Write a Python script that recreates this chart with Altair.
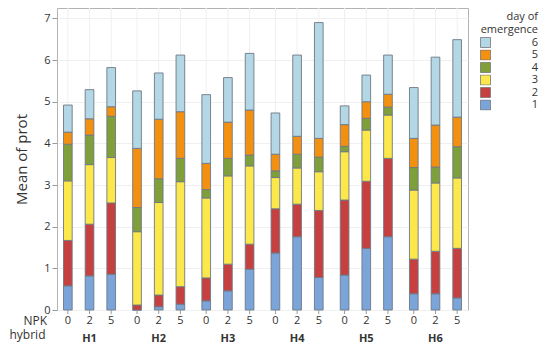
import altair as alt
import pandas as pd

hybrids = ["H1", "H2", "H3", "H4", "H5", "H6"]
npk_levels = ["0", "2", "5"]
days = ["1", "2", "3", "4", "5", "6"]

# mean of prot per day of emergence, order: H1-0, H1-2, H1-5, H2-0, ...
day1 = [0.58, 0.82, 0.86, 0.00, 0.08, 0.14, 0.22, 0.46, 0.98, 1.37, 1.76, 0.78, 0.84, 1.48, 1.76, 0.39, 0.39, 0.29]
day2 = [1.09, 1.24, 1.71, 0.12, 0.28, 0.42, 0.55, 0.64, 0.60, 1.06, 0.78, 1.61, 1.80, 1.61, 1.88, 0.83, 1.02, 1.19]
day3 = [1.43, 1.43, 1.09, 1.76, 2.22, 2.52, 1.92, 2.12, 1.88, 0.75, 0.87, 0.93, 1.16, 1.23, 1.04, 1.66, 1.64, 1.69]
day4 = [0.88, 0.71, 0.99, 0.58, 0.57, 0.56, 0.20, 0.42, 0.26, 0.16, 0.33, 0.35, 0.13, 0.28, 0.19, 0.54, 0.38, 0.75]
day5 = [0.29, 0.39, 0.23, 1.42, 1.43, 1.12, 0.63, 0.87, 1.08, 0.40, 0.43, 0.45, 0.52, 0.40, 0.31, 0.70, 1.01, 0.71]
day6 = [0.65, 0.70, 0.94, 1.38, 1.11, 1.36, 1.65, 1.07, 1.36, 0.99, 1.95, 2.78, 0.45, 0.64, 0.94, 1.22, 1.63, 1.86]

day_colors = ["#7ba4d9", "#c6403f", "#fde84c", "#7e9f3a", "#f4900f", "#b4d7e5"]

series = [day1, day2, day3, day4, day5, day6]
rows = []
for i, h in enumerate(hybrids):
    for j, n in enumerate(npk_levels):
        k = i * 3 + j
        for d, s in zip(days, series):
            rows.append({"hybrid": h, "npk": n, "day": d, "dayn": int(d), "value": s[k]})
df = pd.DataFrame(rows)
pos = pd.DataFrame([{"hybrid": h, "npk": n} for h in hybrids for n in npk_levels])

W, H = 411, 302
FONT = "Open Sans"
TXT = "#333333"

x_enc = alt.X(
    "hybrid:N",
    scale=alt.Scale(domain=hybrids, paddingInner=0.06, paddingOuter=0),
    axis=alt.Axis(
        title="hybrid", titleX=-12, titleY=24, titleAlign="right", titleBaseline="middle",
        titleFontWeight="normal", titleFontSize=12, titleColor=TXT, titleFont=FONT,
        labelFontWeight="bold", labelFontSize=11, labelColor=TXT, labelPadding=22,
        labelAngle=0, ticks=False, domain=False, grid=False, labelFont=FONT,
    ),
)
xo_enc = alt.XOffset(
    "npk:N", scale=alt.Scale(domain=npk_levels, paddingInner=0.6, paddingOuter=0.3)
)

vgrid = alt.Chart(pos).mark_rule(color="#f0f0f0", strokeWidth=1).encode(
    x=x_enc, xOffset=xo_enc, y=alt.value(0), y2=alt.value(H)
)

bars = alt.Chart(df).mark_bar(stroke="#6d7884", strokeWidth=0.9).encode(
    x=x_enc,
    xOffset=xo_enc,
    y=alt.Y(
        "value:Q", stack="zero",
        scale=alt.Scale(domain=[0, 7.25], nice=False),
        axis=alt.Axis(
            values=list(range(8)), title="Mean of prot", titleFontSize=15,
            titleFontWeight="normal", titleColor=TXT, titlePadding=14, titleFont=FONT,
            labelFontSize=11, labelColor=TXT, labelPadding=2, labelFont=FONT,
            tickSize=5, tickColor="#999999", domain=False,
            grid=True, gridColor="#f0f0f0",
        ),
    ),
    color=alt.Color(
        "day:N",
        scale=alt.Scale(domain=days[::-1], range=day_colors[::-1]),
        legend=alt.Legend(
            title=["day of", "emergence"], orient="none", legendX=423, legendY=3,
            symbolType="square", symbolSize=100, symbolStrokeColor="#777777",
            symbolStrokeWidth=0.8, labelAlign="right", labelOffset=47,
            titleAlign="right", titleAnchor="end", titleFontWeight="normal",
            titleFontSize=11, titleColor=TXT, labelFontSize=11, labelColor=TXT,
            titleLineHeight=13, rowPadding=0.5, clipHeight=11, titleFont=FONT,
            labelFont=FONT, titlePadding=2,
        ),
    ),
    order=alt.Order("dayn:Q", sort="ascending"),
)

xticks = alt.Chart(pos).mark_rule(color="#999999").encode(
    x=x_enc, xOffset=xo_enc, y=alt.value(H), y2=alt.value(H + 4)
)

npk_text = alt.Chart(pos).mark_text(
    fontSize=11, color=TXT, font=FONT, baseline="middle"
).encode(x=x_enc, xOffset=xo_enc, y=alt.value(H + 11), text="npk:N")

npk_row = alt.Chart(pd.DataFrame({"t": ["NPK"]})).mark_text(
    fontSize=12, color=TXT, font=FONT, align="right", baseline="middle"
).encode(x=alt.value(-10), y=alt.value(H + 11), text="t:N")

chart = (
    alt.layer(vgrid, bars, xticks, npk_text, npk_row)
    .properties(
        width=W, height=H,
        autosize=alt.AutoSizeParams(type="none"),
        padding={"left": 49, "top": 0, "right": 74, "bottom": 34},
    )
    .configure(font=FONT)
    .configure_view(stroke="#b3b3b3", strokeWidth=1)
)

chart.save("out.html", embed_options={"renderer": "svg", "actions": False})
